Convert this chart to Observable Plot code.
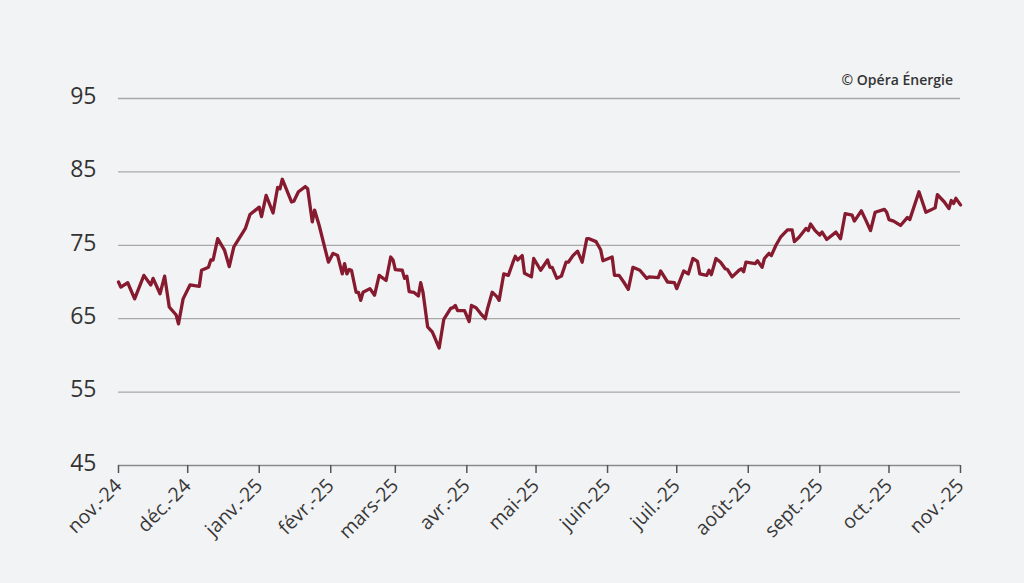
<!DOCTYPE html>
<html>
<head>
<meta charset="utf-8">
<script src="https://cdn.jsdelivr.net/npm/d3@7"></script>
<script src="https://cdn.jsdelivr.net/npm/@observablehq/plot@0.6"></script>
<style>
  html, body { margin: 0; padding: 0; background: #f2f3f5; }
  #wrap { position: relative; width: 1024px; height: 583px; background: #f2f3f5; overflow: hidden; }
  #credit { position: absolute; right: 71px; top: 70px; font-family: "Open Sans", sans-serif; font-weight: 600; font-size: 14px; color: #333; }
  #chart { position: absolute; left: 0; top: 0; }
</style>
</head>
<body>
<div id="wrap">
  <div id="chart"></div>
  <div id="credit">© Opéra Énergie</div>
</div>
<script>
const dates = [
  "2024-11-01","2024-11-02","2024-11-05","2024-11-08","2024-11-12","2024-11-15","2024-11-16","2024-11-19","2024-11-21","2024-11-23",
  "2024-11-26","2024-11-27","2024-11-29","2024-12-02","2024-12-06","2024-12-07","2024-12-10","2024-12-11","2024-12-12","2024-12-14",
  "2024-12-17","2024-12-19","2024-12-21","2024-12-25","2024-12-26","2024-12-28","2025-01-01","2025-01-02","2025-01-04","2025-01-07",
  "2025-01-09","2025-01-10","2025-01-11","2025-01-15","2025-01-16","2025-01-18","2025-01-21","2025-01-22","2025-01-24","2025-01-25",
  "2025-01-27","2025-01-29","2025-01-31","2025-02-02","2025-02-04","2025-02-06","2025-02-07","2025-02-08","2025-02-09","2025-02-10",
  "2025-02-12","2025-02-13","2025-02-14","2025-02-15","2025-02-18","2025-02-20","2025-02-22","2025-02-25","2025-02-27","2025-02-28",
  "2025-03-01","2025-03-04","2025-03-05","2025-03-06","2025-03-07","2025-03-09","2025-03-11","2025-03-12","2025-03-13","2025-03-15",
  "2025-03-17","2025-03-18","2025-03-20","2025-03-22","2025-03-25","2025-03-26","2025-03-27","2025-03-28","2025-03-31","2025-04-02",
  "2025-04-03","2025-04-05","2025-04-07","2025-04-09","2025-04-10","2025-04-12","2025-04-14","2025-04-15","2025-04-17","2025-04-19",
  "2025-04-21","2025-04-22","2025-04-23","2025-04-25","2025-04-26","2025-04-29","2025-04-30","2025-05-03","2025-05-06","2025-05-07",
  "2025-05-08","2025-05-10","2025-05-12","2025-05-14","2025-05-15","2025-05-17","2025-05-19","2025-05-21","2025-05-23","2025-05-24",
  "2025-05-27","2025-05-29","2025-05-30","2025-06-03","2025-06-04","2025-06-06","2025-06-08","2025-06-10","2025-06-12","2025-06-15",
  "2025-06-18","2025-06-19","2025-06-23","2025-06-24","2025-06-27","2025-06-30","2025-07-01","2025-07-04","2025-07-06","2025-07-08",
  "2025-07-10","2025-07-11","2025-07-14","2025-07-15","2025-07-16","2025-07-18","2025-07-20","2025-07-22","2025-07-23","2025-07-25",
  "2025-07-28","2025-07-29","2025-07-30","2025-07-31","2025-08-04","2025-08-05","2025-08-07","2025-08-08","2025-08-10","2025-08-11",
  "2025-08-13","2025-08-15","2025-08-18","2025-08-20","2025-08-21","2025-08-23","2025-08-26","2025-08-27","2025-08-28","2025-08-30",
  "2025-09-01","2025-09-02","2025-09-04","2025-09-08","2025-09-10","2025-09-12","2025-09-15","2025-09-16","2025-09-19","2025-09-21",
  "2025-09-23","2025-09-25","2025-09-29","2025-09-30","2025-10-01","2025-10-03","2025-10-06","2025-10-09","2025-10-10","2025-10-14",
  "2025-10-17","2025-10-21","2025-10-22","2025-10-25","2025-10-27","2025-10-28","2025-10-29","2025-10-30","2025-11-01"
];
const values = [
  70.0,69.3,69.9,67.7,70.9,69.6,70.5,68.4,70.8,66.6,
  65.5,64.3,67.7,69.6,69.4,71.6,72.0,73.0,73.0,75.9,
  74.3,72.1,74.8,76.8,77.3,79.2,80.2,78.9,81.8,79.4,
  82.9,82.7,84.0,80.9,81.0,82.3,83.0,82.7,78.2,79.8,
  77.7,75.2,72.7,73.9,73.6,71.1,72.5,71.1,71.7,71.6,
  68.6,68.6,67.5,68.6,69.1,68.2,70.9,70.2,73.4,73.0,
  71.7,71.6,70.5,70.8,68.7,68.6,68.1,69.9,68.6,63.9,
  63.2,62.5,61.0,64.9,66.4,66.5,66.8,66.1,66.1,64.6,
  66.8,66.5,65.7,65.0,66.4,68.6,68.0,67.5,71.1,70.9,
  72.7,73.5,73.0,73.6,71.2,70.7,73.2,71.6,73.0,72.0,
  72.0,70.5,70.8,72.7,72.7,73.6,74.2,72.7,75.9,75.9,
  75.5,74.4,72.9,73.4,70.9,70.9,70.0,69.0,72.0,71.6,
  70.5,70.7,70.6,71.5,70.0,69.9,69.1,71.5,71.1,73.2,
  72.8,71.1,70.9,71.6,71.0,73.2,72.7,71.8,71.7,70.7,
  71.6,71.8,71.4,72.7,72.5,72.9,72.0,73.2,73.9,73.6,
  75.0,76.1,77.1,77.1,75.5,76.1,77.3,77.0,77.9,77.0,
  76.4,76.8,75.8,76.8,75.9,79.3,79.1,78.3,79.7,78.4,
  77.0,79.5,79.9,79.5,78.5,78.3,77.7,78.8,78.5,82.3,
  79.5,80.1,81.9,80.9,80.0,81.1,80.7,81.4,80.5
];
const yTicks = [45, 55, 65, 75, 85, 95];
const tickDates = ["2024-11-01","2024-12-01","2025-01-01","2025-02-01","2025-03-01","2025-04-01","2025-05-01","2025-06-01","2025-07-01","2025-08-01","2025-09-01","2025-10-01","2025-11-01"];
const tickLabels = ["nov.-24","déc.-24","janv.-25","févr.-25","mars-25","avr.-25","mai-25","juin-25","juil.-25","août-25","sept.-25","oct.-25","nov.-25"];

const data = dates.map((d, i) => ({date: new Date(d + "T00:00:00Z"), value: values[i]}));
const ticks = tickDates.map(d => new Date(d + "T00:00:00Z"));
const labelOf = d => tickLabels[ticks.findIndex(t => +t === +d)];

const chart = Plot.plot({
  width: 1024,
  height: 583,
  marginLeft: 118,
  marginRight: 64,
  marginTop: 98,
  marginBottom: 118,
  style: {background: "transparent", fontFamily: "'Open Sans', sans-serif", color: "#333", overflow: "visible"},
  x: {type: "utc", domain: [ticks[0], ticks[ticks.length - 1]]},
  y: {domain: [45, 95]},
  marks: [
    Plot.gridY(yTicks.slice(1), {stroke: "#a9a9a9", strokeOpacity: 1, strokeWidth: 1.3}),
    Plot.ruleY([45], {stroke: "#8a8a8a", strokeWidth: 1.5}),
    Plot.axisY(yTicks, {tickSize: 0, tickPadding: 22, fontSize: 23, fill: "#333", label: null, dy: -2}),
    Plot.axisX(ticks, {tickSize: 8, tickPadding: 9, tickRotate: -45, fontSize: 19.5, fill: "#383838", stroke: "#555", strokeWidth: 1.5, tickFormat: labelOf, label: null}),
    Plot.lineY(data, {x: "date", y: "value", stroke: "#861a2f", strokeWidth: 3.3, strokeLinejoin: "round", curve: "linear"})
  ]
});
document.getElementById("chart").appendChild(chart);
</script>
</body>
</html>
